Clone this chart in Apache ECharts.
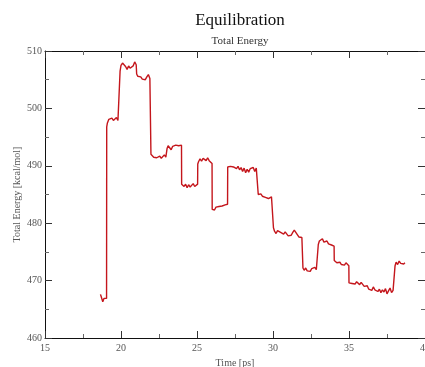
<!DOCTYPE html>
<html>
<head>
<meta charset="utf-8">
<script src="https://cdn.jsdelivr.net/npm/echarts@6/dist/echarts.min.js"></script>
<style>
  html, body { margin: 0; padding: 0; background: #fff; }
  #chart { width: 425px; height: 367px; }
</style>
</head>
<body>
<div id="chart"></div>
<script>
// Simulation time [ps]; repeated times mark the jumps between stages
const times = [
  18.65, 18.72, 18.80, 18.88, 18.95, 19.05, 19.06,
  19.10, 19.20, 19.30, 19.40, 19.50, 19.60, 19.70, 19.80, 19.90, 19.93, 19.94,
  20.00, 20.10, 20.20, 20.30, 20.40, 20.50, 20.60, 20.70, 20.80, 20.90, 21.00, 21.03,
  21.10, 21.20, 21.30, 21.40, 21.50, 21.60, 21.70, 21.80, 21.90, 21.96, 21.97,
  22.05, 22.15, 22.25, 22.35, 22.45, 22.55, 22.65, 22.75, 22.85, 22.95, 23.02, 23.03,
  23.10, 23.20, 23.30, 23.40, 23.50, 23.60, 23.70, 23.80, 23.90, 23.98, 23.99,
  24.05, 24.15, 24.25, 24.35, 24.45, 24.55, 24.65, 24.75, 24.85, 24.95, 25.04, 25.05,
  25.10, 25.20, 25.30, 25.40, 25.50, 25.60, 25.70, 25.80, 25.90, 25.99, 26.00,
  26.05, 26.15, 26.25, 26.35, 26.45, 26.55, 26.65, 26.75, 26.85, 26.95, 27.01, 27.02,
  27.10, 27.20, 27.30, 27.40, 27.50, 27.60, 27.70, 27.80, 27.90, 28.00, 28.10,
  28.20, 28.30, 28.40, 28.50, 28.60, 28.70, 28.80, 28.90, 29.00, 29.02, 29.03,
  29.10, 29.20, 29.30, 29.40, 29.50, 29.60, 29.70, 29.80, 29.90, 30.00, 30.02, 30.03,
  30.10, 30.20, 30.30, 30.40, 30.50, 30.60, 30.70, 30.80, 30.90, 31.00, 31.10,
  31.20, 31.30, 31.40, 31.50, 31.60, 31.70, 31.80, 31.90, 31.96, 31.97,
  32.05, 32.15, 32.25, 32.35, 32.45, 32.55, 32.65, 32.75, 32.85, 32.97, 32.98,
  33.05, 33.15, 33.25, 33.35, 33.45, 33.55, 33.65, 33.75, 33.85, 33.95, 34.02, 34.03,
  34.10, 34.20, 34.30, 34.40, 34.50, 34.60, 34.70, 34.80, 34.90, 34.99, 35.00,
  35.10, 35.20, 35.30, 35.40, 35.50, 35.60, 35.70, 35.80, 35.90, 36.00, 36.10,
  36.20, 36.30, 36.40, 36.50, 36.60, 36.70, 36.80, 36.90, 37.00, 37.10, 37.20,
  37.30, 37.40, 37.50, 37.60, 37.70, 37.80, 37.90, 38.02, 38.03,
  38.10, 38.20, 38.30, 38.40, 38.50, 38.60, 38.68
];

// Total energy [kcal/mol] at each time above
const energy = [
  467.6, 467.0, 466.3, 466.9, 466.6, 466.9, 496.8,
  497.4, 498.1, 497.8, 498.3, 497.9, 498.2, 498.4, 497.9, 497.7, 497.6, 506.5,
  507.5, 507.9, 507.6, 507.3, 506.8, 507.4, 507.0, 506.7, 507.4, 508.1, 507.6, 506.0,
  505.6, 505.3, 505.5, 505.1, 505.4, 505.0, 505.5, 505.9, 505.2, 504.9, 492.0,
  491.7, 491.5, 491.8, 491.4, 491.2, 491.7, 491.3, 491.6, 491.9, 491.5, 491.8, 493.0,
  493.5, 493.2, 492.8, 493.4, 493.2, 493.6, 493.7, 493.5, 493.8, 493.6, 486.8,
  487.0, 486.4, 486.8, 486.2, 486.7, 486.3, 486.6, 486.9, 486.4, 486.7, 486.8, 490.3,
  490.7, 491.2, 490.8, 491.3, 491.0, 490.9, 491.4, 490.9, 490.6, 490.4, 482.4,
  482.7, 482.3, 482.8, 482.5, 482.9, 482.6, 483.0, 482.7, 483.2, 482.9, 483.3, 489.8,
  490.1, 489.9, 490.2, 489.8, 490.0, 489.5, 489.9, 489.3, 489.7, 489.0, 489.6,
  488.8, 489.4, 488.9, 489.5, 489.2, 489.7, 489.0, 489.6, 489.9, 489.4, 485.0,
  484.8, 485.1, 484.7, 484.9, 484.5, 484.8, 484.3, 484.0, 484.6, 484.9, 484.4, 479.2,
  478.6, 478.2, 478.7, 478.9, 478.4, 478.6, 478.1, 478.5, 478.2, 477.8, 477.6,
  477.9, 478.4, 478.8, 478.5, 478.0, 477.6, 477.4, 477.5, 477.2, 472.2,
  471.8, 472.2, 471.7, 472.0, 471.6, 472.1, 471.8, 472.3, 471.9, 472.1, 476.3,
  476.9, 476.6, 477.3, 476.7, 477.0, 476.9, 476.4, 476.6, 476.2, 476.3, 476.0, 473.5,
  473.8, 473.1, 472.9, 473.2, 472.8, 473.0, 472.7, 473.1, 472.8, 472.6, 469.6,
  469.8, 469.5, 469.7, 469.4, 469.8, 469.6, 469.3, 469.7, 469.4, 469.0, 468.7,
  469.1, 468.5, 468.8, 468.3, 468.9, 468.4, 468.6, 468.1, 468.5, 467.9, 468.4,
  468.0, 468.6, 467.7, 468.2, 468.7, 467.9, 468.3, 468.5, 472.6,
  473.2, 472.8, 473.4, 473.0, 473.3, 472.9, 473.1
];

const timeTicks = { min: 15, max: 40, step: 5 };
const energyTicks = { min: 460, max: 510, step: 10 };

const serif = '"Liberation Serif", "DejaVu Serif", serif';
const labelColor = '#555';

const points = times.map((t, i) => [t, energy[i]]);

const frameAxis = (extra) => Object.assign({
  type: 'value',
  axisLine: { show: true, onZero: false, lineStyle: { color: '#111', width: 1 } },
  axisTick: { show: true, inside: true, length: 7, lineStyle: { color: '#333' } },
  minorTick: { show: true, splitNumber: 2, length: 4, lineStyle: { color: '#666' } },
  splitLine: { show: false },
  minorSplitLine: { show: false }
}, extra);

const chart = echarts.init(document.getElementById('chart'), null, { renderer: 'canvas' });
chart.setOption({
  backgroundColor: '#fff',
  animation: false,
  title: [
    {
      text: 'Equilibration',
      left: 235, top: 7, textAlign: 'center',
      textStyle: { fontFamily: serif, fontSize: 17, fontWeight: 'normal', color: '#111' }
    },
    {
      text: 'Total Energy',
      left: 235, top: 31, textAlign: 'center',
      textStyle: { fontFamily: serif, fontSize: 11, fontWeight: 'normal', color: '#333' }
    }
  ],
  grid: { left: 45, right: 0, top: 51, bottom: 29, containLabel: false, outerBoundsMode: 'none' },
  xAxis: [
    frameAxis({
      position: 'bottom',
      min: timeTicks.min, max: timeTicks.max, interval: timeTicks.step,
      name: 'Time [ps]', nameLocation: 'middle', nameGap: 13,
      nameTextStyle: { fontFamily: serif, fontSize: 10, color: labelColor },
      axisLabel: { fontFamily: serif, fontSize: 10, color: labelColor, margin: 5 }
    }),
    frameAxis({
      position: 'top',
      min: timeTicks.min, max: timeTicks.max, interval: timeTicks.step,
      axisLabel: { show: false }
    })
  ],
  yAxis: [
    frameAxis({
      position: 'left',
      min: energyTicks.min, max: energyTicks.max, interval: energyTicks.step,
      name: 'Total Energy [kcal/mol]', nameLocation: 'middle', nameGap: 23,
      nameMoveOverlap: false,
      nameTextStyle: { fontFamily: serif, fontSize: 10, color: labelColor },
      axisLabel: { fontFamily: serif, fontSize: 10, color: labelColor, margin: 3 }
    }),
    frameAxis({
      position: 'right',
      min: energyTicks.min, max: energyTicks.max, interval: energyTicks.step,
      axisLabel: { show: false }
    })
  ],
  series: [{
    type: 'line',
    data: points,
    xAxisIndex: 0,
    yAxisIndex: 0,
    showSymbol: false,
    lineStyle: { color: '#c4161c', width: 1.4 },
    silent: true
  }]
});
</script>
</body>
</html>
